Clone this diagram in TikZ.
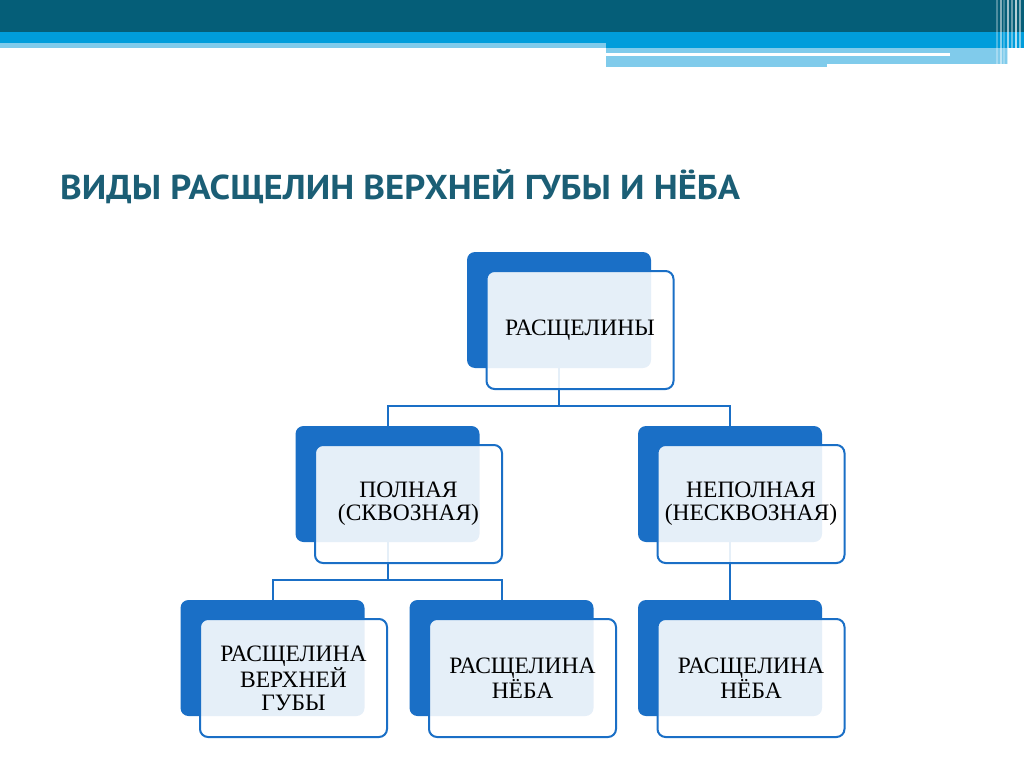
\documentclass[tikz,border=0pt]{standalone}
\usepackage{fontspec}
\setmainfont{Liberation Serif}
\newfontfamily\titlefont{PT Sans}
\definecolor{barteal}{HTML}{055E78}
\definecolor{barblue}{HTML}{009DDB}
\definecolor{barlight}{HTML}{80CBEB}
\definecolor{boxblue}{HTML}{1A6FC6}
\definecolor{titleteal}{HTML}{1B5E75}

\begin{document}
\begin{tikzpicture}[
    x=1pt, y=-1pt,
    back/.style={rectangle, rounded corners=8pt, fill=boxblue, inner sep=0pt,
      minimum width=184pt, minimum height=116pt},
    front/.style={rectangle, rounded corners=8pt, draw=boxblue, line width=2pt,
      fill=white, fill opacity=0.89, text opacity=1, inner sep=0pt,
      minimum width=187pt, minimum height=118pt, align=center,
      font=\fontsize{23.5}{23}\selectfont},
    link/.style={draw=boxblue, line width=2pt}
]
  \useasboundingbox (0,0) rectangle (1024,767);

  % header bars
  \fill[barteal] (0,0) rectangle (1024,32);
  \fill[barblue] (0,32) rectangle (1024,43);
  \fill[barblue] (606,43) rectangle (1024,48);
  \fill[barlight] (0,43) rectangle (606,48);
  \fill[barlight] (606,48) rectangle (1008,64);
  \fill[barlight] (606,64) rectangle (827,67);
  \fill[white] (606,53) rectangle (950,56);
  \foreach \sx/\op in {996/0.3, 1000/0.5, 1003/0.25, 1007/0.6, 1011/0.4, 1015/0.7, 1019/0.5}
    \fill[white, opacity=\op] (\sx,0) rectangle ++(1.5,67);

  \node[anchor=base west, text=titleteal, xscale=1.065, inner sep=0pt,
        font=\titlefont\bfseries\fontsize{34.5}{36}\selectfont]
    (title) at (60,200) {ВИДЫ РАСЩЕЛИН ВЕРХНЕЙ ГУБЫ И НЁБА};

  % back boxes
  \foreach \n/\cx/\cy in {top/559/310, full/387.5/484, part/730/484,
                          lip/272.5/658, pal/501.5/658, pal2/730/658}
    \node[back] (\n-b) at (\cx,\cy) {};

  % connectors
  \draw[link] (top-b.south) -- ++(0,38) coordinate (hub) -| (full-b.north);
  \draw[link] (hub) -| (part-b.north);
  \draw[link] (full-b.south) -- ++(0,38) coordinate (hub2) -| (lip-b.north);
  \draw[link] (hub2) -| (pal-b.north);
  \draw[link] (part-b.south) -- (pal2-b.north);

  % front boxes
  \node[front] (top) at ([shift={(21,20)}]top-b.center) {РАСЩЕЛИНЫ};
  \node[front] (full) at ([shift={(21,20)}]full-b.center) {ПОЛНАЯ\\(СКВОЗНАЯ)};
  \node[front] (part) at ([shift={(21,20)}]part-b.center) {НЕПОЛНАЯ\\(НЕСКВОЗНАЯ)};
  \node[front] (lip) at ([shift={(21,20)}]lip-b.center) {РАСЩЕЛИНА\\ВЕРХНЕЙ\\ГУБЫ};
  \node[front] (pal) at ([shift={(21,20)}]pal-b.center) {РАСЩЕЛИНА\\НЁБА};
  \node[front] (pal2) at ([shift={(21,20)}]pal2-b.center) {РАСЩЕЛИНА\\НЁБА};

\end{tikzpicture}
\end{document}
